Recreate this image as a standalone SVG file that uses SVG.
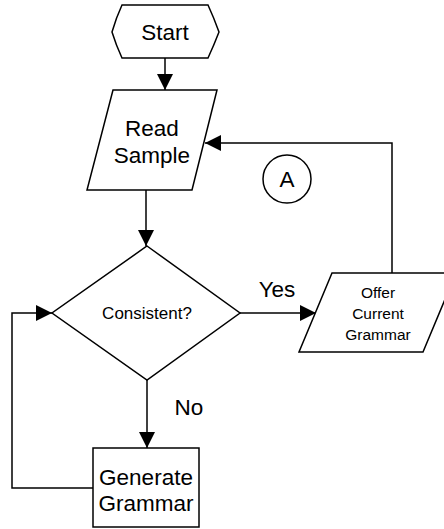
<svg xmlns="http://www.w3.org/2000/svg" width="444" height="529" viewBox="0 0 444 529">
<style>
.s{fill:#fff;stroke:#000;stroke-width:1.5}
.c{fill:none;stroke:#000;stroke-width:1.5}
text{font-family:"Liberation Sans",Arial,sans-serif;fill:#000;text-anchor:middle}
.b{font-size:22.5px}
.m{font-size:15.5px}
.d{font-size:17px}
</style>
<defs>
<marker id="ah" markerWidth="16" markerHeight="16" viewBox="0 0 16 16" refX="16" refY="8" orient="auto" markerUnits="userSpaceOnUse">
<path d="M0,0 L16,8 L0,16 Z" fill="#000"/>
</marker>
</defs>
<g id="connectors">
<path class="c" d="M165,58 V90" marker-end="url(#ah)"/>
<path class="c" d="M146,190 V246" marker-end="url(#ah)"/>
<path class="c" d="M240,313 H316" marker-end="url(#ah)"/>
<path class="c" d="M392,273 V143 H205" marker-end="url(#ah)"/>
<path class="c" d="M147,380 V448" marker-end="url(#ah)"/>
<path class="c" d="M93,488 H12 V313 H52" marker-end="url(#ah)"/>
</g>
<g id="start">
<path class="s" d="M122,5 H208 Q214,18 219,32 Q214,45 208,58 H122 Q116,45 112,32 Q116,18 122,5 Z"/>
<text class="b" x="165" y="40">Start</text>
</g>
<g id="read">
<polygon class="s" points="113,90 217,90 192,190 87,190"/>
<text class="b" x="152" y="136">Read</text>
<text class="b" x="152" y="163">Sample</text>
</g>
<g id="connector-a">
<circle class="s" cx="287" cy="179" r="24"/>
<text class="b" x="287" y="187">A</text>
</g>
<g id="consistent">
<polygon class="s" points="147,246 240,313 147,380 52,313"/>
<text class="d" x="147" y="319">Consistent?</text>
</g>
<g id="offer">
<polygon class="s" points="332,273 456,273 423,352 299,352"/>
<text class="m" x="378" y="298">Offer</text>
<text class="m" x="378" y="319">Current</text>
<text class="m" x="378" y="340">Grammar</text>
</g>
<g id="generate">
<rect class="s" x="93" y="448" width="106" height="79"/>
<text class="b" x="146" y="485">Generate</text>
<text class="b" x="146" y="511">Grammar</text>
</g>
<g id="labels">
<text class="b" x="277" y="297">Yes</text>
<text class="b" x="189" y="415">No</text>
</g>
</svg>
